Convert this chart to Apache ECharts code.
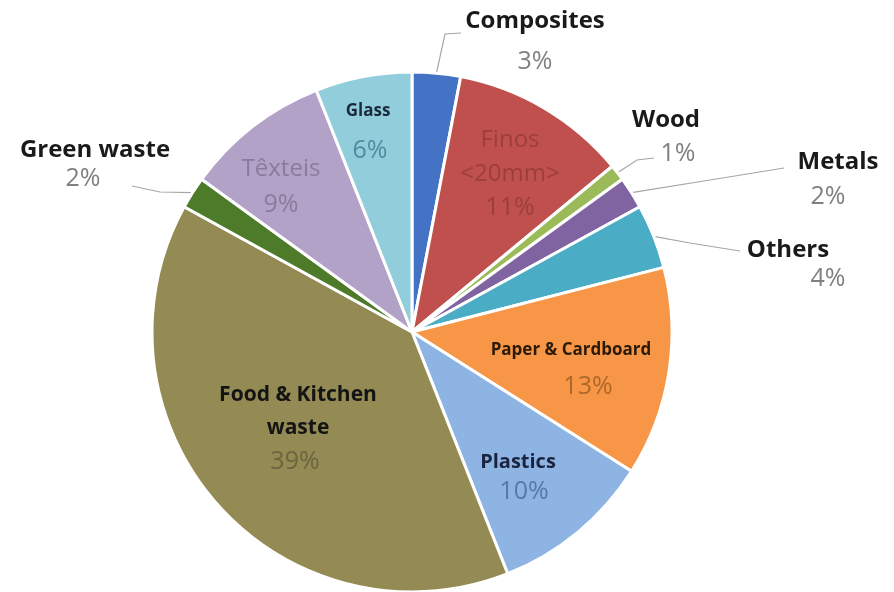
<!DOCTYPE html>
<html><head><meta charset="utf-8">
<script src="https://cdn.jsdelivr.net/npm/echarts@6/dist/echarts.min.js"></script>
<style>html,body{margin:0;padding:0;background:#fff}#c{width:894px;height:592px}</style>
</head><body><div id="c"></div>
<script>
// ---- data ----
const categories = ['Composites','Finos <20mm>','Wood','Metals','Others','Paper & Cardboard','Plastics','Food & Kitchen waste','Green waste','Têxteis','Glass'];
const values = [3, 11, 1, 2, 4, 13, 10, 39, 2, 9, 6];
const sliceColors = ['#4472C4','#C0504D','#9BBB59','#8064A2','#4BACC6','#F79646','#8DB4E2','#948A54','#4E7B2A','#B3A2C7','#92CDDC'];
const displayNames = {'Finos <20mm>':'Finos\n<20mm>','Food & Kitchen waste':'Food & Kitchen\nwaste'};

// ---- layout / style ----
const CX = 412, CY = 332, R = 260;
const FONT = '"Open Sans", "Noto Sans", sans-serif';
const labelStyles = {
  'Composites':          {x:535, y:41.5, lh:41, nSize:24, nWeight:'bold',   nColor:'#1a1a1a', pColor:'#808080', shift:0,   line:[[445,34],[461,33]]},
  'Finos <20mm>':        {x:510, y:174,  lh:34, nSize:24, nWeight:'normal', nColor:'#9c3e3c', pColor:'#9c3e3c', shift:0},
  'Wood':                {x:666, y:137,  lh:34, nSize:24, nWeight:'bold',   nColor:'#1a1a1a', pColor:'#808080', shift:12,  line:[[637,160],[654,158]]},
  'Metals':              {x:838, y:179.5,lh:35, nSize:24, nWeight:'bold',   nColor:'#1a1a1a', pColor:'#808080', shift:-10, line:[[707,180.5],[784,168]]},
  'Others':              {x:788, y:264.5,lh:29, nSize:24, nWeight:'bold',   nColor:'#1a1a1a', pColor:'#808080', shift:40,  line:[[690,243],[740,251]]},
  'Paper & Cardboard':   {x:571, y:368.5,lh:37, nSize:17, nWeight:'bold',   nColor:'#2b1a08', pColor:'#ad682c', shift:17},
  'Plastics':            {x:518, y:477,  lh:30, nSize:20, nWeight:'bold',   nColor:'#1a2440', pColor:'#5a78a6', shift:6},
  'Food & Kitchen waste':{x:298, y:428.5,lh:33.5,nSize:21, nWeight:'bold',  nColor:'#141414', pColor:'#6b653e', shift:-3},
  'Green waste':         {x:95,  y:164.5,lh:29, nSize:24, nWeight:'bold',   nColor:'#1a1a1a', pColor:'#808080', shift:-12, line:[[160,192],[132,186]]},
  'Têxteis':             {x:281, y:187,  lh:36, nSize:24, nWeight:'normal', nColor:'#8a7b9e', pColor:'#8a7b9e', shift:0},
  'Glass':               {x:368, y:131,  lh:40, nSize:17, nWeight:'bold',   nColor:'#1b2a3a', pColor:'#4f8c9c', shift:2}
};

const total = values.reduce((a, b) => a + b, 0);

const data = categories.map((name, i) => {
  const s = labelStyles[name];
  const outside = !!s.line;
  const pad = s.shift >= 0 ? [0, 0, 0, 2 * s.shift] : [0, -2 * s.shift, 0, 0];
  return {
    name: name,
    value: values[i],
    itemStyle: {color: sliceColors[i]},
    label: {
      show: true,
      position: outside ? 'outside' : 'inside',
      formatter: '{n|' + (displayNames[name] || name) + '}\n{p|' + values[i] + '%}',
      textBorderWidth: 0,
      rich: {
        n: {fontFamily: FONT, fontSize: s.nSize, fontWeight: s.nWeight, color: s.nColor, lineHeight: s.lh, textBorderWidth: 0},
        p: {fontFamily: FONT, fontSize: 25, fontWeight: 'normal', color: s.pColor, lineHeight: s.lh, padding: pad, textBorderWidth: 0}
      }
    },
    labelLine: {show: outside, lineStyle: {color: '#a6a6a6', width: 1.2}}
  };
});

const chart = echarts.init(document.getElementById('c'), null, {renderer: 'canvas'});
chart.setOption({
  backgroundColor: '#ffffff',
  animation: false,
  series: [{
    type: 'pie',
    center: [CX, CY],
    radius: R,
    startAngle: 90,
    clockwise: true,
    avoidLabelOverlap: false,
    itemStyle: {borderColor: '#ffffff', borderWidth: 3},
    emphasis: {disabled: true},
    data: data,
    labelLayout: function (p) {
      const name = categories[p.dataIndex];
      const s = labelStyles[name];
      const out = {x: s.x, y: s.y, align: 'center', verticalAlign: 'middle'};
      if (s.line) {
        let cum = values[p.dataIndex] / 2;
        for (let k = 0; k < p.dataIndex; k++) cum += values[k];
        const ang = Math.PI / 2 - cum / total * 2 * Math.PI;
        const edge = [CX + R * Math.cos(ang), CY - R * Math.sin(ang)];
        out.labelLinePoints = [edge].concat(s.line);
      }
      return out;
    }
  }]
});
</script></body></html>
